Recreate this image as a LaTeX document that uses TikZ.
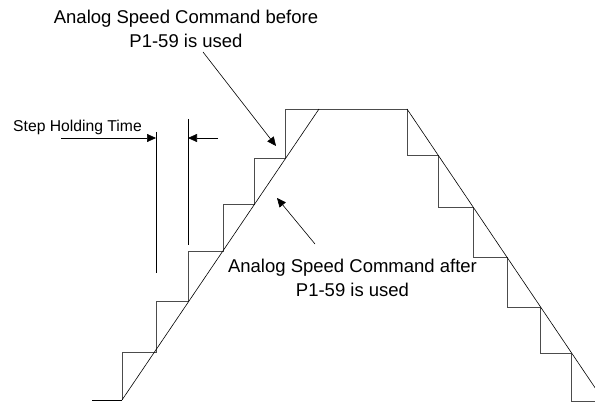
\documentclass[tikz,border=0pt]{standalone}
\usepackage{fontspec}
\setmainfont{Liberation Sans}
\usetikzlibrary{arrows.meta}
\begin{document}
\begin{tikzpicture}[x=1pt,y=-1pt,
  stair/.style={draw=black!70,line width=0.9pt},
  ramp/.style={draw=black,line width=0.6pt},
  pointer/.style={draw=black,line width=0.6pt,-{Triangle[length=9pt,width=8pt]}},
  note/.style={inner sep=0pt,align=center,font=\fontsize{18.5}{24.5}\selectfont}]
\clip (0,0) rectangle (595,403);
\node[note,anchor=north] (before) at (186,9.5) {Analog Speed Command before\\P1-59 is used};
\node[note,anchor=north] (after) at (352.5,258.5) {Analog Speed Command after\\P1-59 is used};
\node[inner sep=0pt,anchor=base west,font=\fontsize{15.7}{19}\selectfont] (holding) at (13,132) {Step Holding Time};
\coordinate (beforetail) at (203,52);
\coordinate (beforetip) at (276,146);
\coordinate (aftertail) at (315,244);
\coordinate (aftertip) at (277,198);
\coordinate (holdleft) at (61,138);
\coordinate (holdright) at (218,138);
\coordinate (markleft) at (156,138);
\coordinate (markright) at (188,138);
\draw[ramp] (92,400)--(122,400);
\draw[stair] (122,400)--(122,352)--(156,352)--(156,301)--(188,301)--(188,251)--(223,251)--(223,204)--(254,204)--(254,158)--(285,158)--(285,109)--(407,109);
\draw[stair] (407,109)--(407,155)--(438,155)--(438,207)--(473,207)--(473,257)--(507,257)--(507,307)--(540,307)--(540,353)--(571,353)--(571,401)--(604,401);
\draw[ramp] (122,400)--(319,109);
\draw[ramp] (407,109)--(604,401);
\draw[ramp] (156,132)--(156,273);
\draw[ramp] (188,119)--(188,245);
\draw[pointer] (holdleft)--(markleft);
\draw[pointer] (holdright)--(markright);
\draw[pointer] (beforetail)--(beforetip);
\draw[pointer] (aftertail)--(aftertip);
\end{tikzpicture}
\end{document}
